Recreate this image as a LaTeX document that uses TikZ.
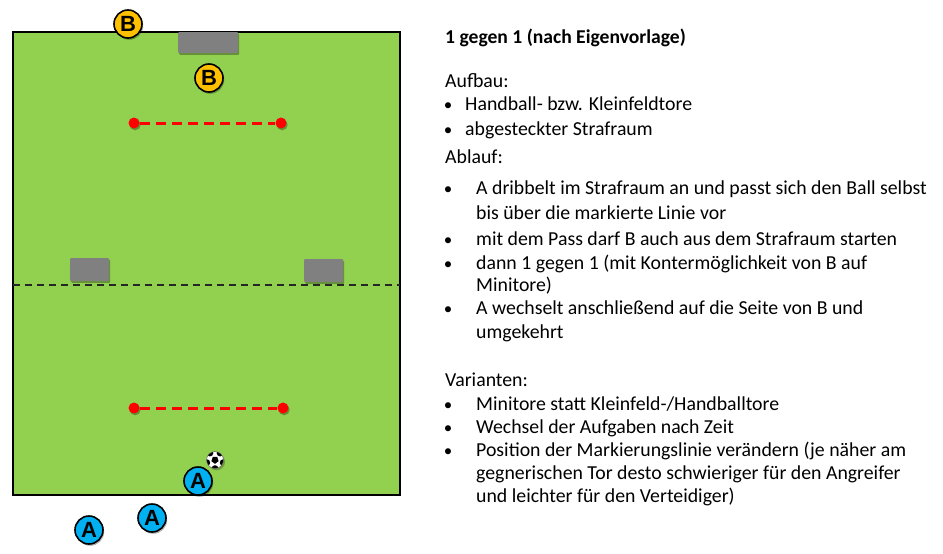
\documentclass[tikz,border=0pt]{standalone}
\usepackage{fontspec}
\setmainfont{Carlito}
\newfontfamily\markfont{Liberation Sans}
\usetikzlibrary{shadows,calc}
\definecolor{fieldgreen}{HTML}{92D050}
\definecolor{goalgray}{HTML}{808080}
\definecolor{playerA}{HTML}{00B0F0}
\definecolor{playerB}{HTML}{FFC000}
\tikzset{
  softshadow/.style={drop shadow={shadow xshift=1.2pt, shadow yshift=-1.8pt, opacity=0.3, fill=black}},
  player/.style={circle, draw=black, line width=1.6pt, minimum size=28pt, inner sep=0pt,
    font=\markfont\bfseries\fontsize{22}{22}\selectfont, softshadow},
  pA/.style={player, fill=playerA},
  pB/.style={player, fill=playerB},
  goalbox/.style={rectangle, fill=goalgray, inner sep=0pt, rounded corners=1pt, softshadow},
  cone/.style={circle, fill=red, minimum size=11pt, inner sep=0pt, softshadow},
  redline/.style={red, line width=3pt, dash pattern=on 10pt off 6pt},
  midline/.style={black!85, line width=1.6pt, dash pattern=on 7pt off 5pt},
  txt/.style={anchor=base west, inner sep=0pt, font=\fontsize{19.8}{23}\selectfont},
  bul/.style={anchor=base, inner sep=0pt, font=\fontsize{17}{23}\selectfont},
}
\begin{document}
\begin{tikzpicture}[x=1pt, y=-1pt]
\useasboundingbox (0,0) rectangle (943,554);
% field
\draw[line width=1.8pt, fill=fieldgreen] (13,32) rectangle (400,495);
% midline
\coordinate (m1) at (13,285);
\coordinate (m2) at (400,285);
\draw[midline] (m1) -- (m2);
% goals
\node[goalbox, minimum width=60pt, minimum height=21pt] (goaltop) at (208,42.5) {};
\node[goalbox, minimum width=39pt, minimum height=23pt] (minileft) at (89.5,269.5) {};
\node[goalbox, minimum width=39pt, minimum height=23pt] (miniright) at (323.5,270.5) {};
% red lines
\node[cone] (c1) at (134,123) {};
\node[cone] (c2) at (281,123) {};
\node[cone] (c3) at (134,408) {};
\node[cone] (c4) at (283,408) {};
\draw[redline] (c1) -- (c2);
\draw[redline] (c3) -- (c4);
% ball
\coordinate (bc) at (215,460);
\begin{scope}
  \fill[black, opacity=0.25] (216.5,461.8) circle (8.5);
  \fill[white] (bc) circle (8.5);
  \clip (bc) circle (8.5);
  \foreach \a in {18,90,162,234,306}
    \fill[black] ($(bc)+(\a:8.6)$) circle (3.4);
  \fill[black] ($(bc)+(90:3.8)$) -- ($(bc)+(18:3.8)$) -- ($(bc)+(-54:3.8)$) -- ($(bc)+(-126:3.8)$) -- ($(bc)+(162:3.8)$) -- cycle;
\end{scope}
\node[circle, draw=black!60, line width=0.5pt, minimum size=17pt, inner sep=0pt] (ball) at (bc) {};
% players
\node[pB] (b1) at (128,24) {B};
\node[pB] (b2) at (209,78) {B};
\node[pA] (a1) at (198,481) {A};
\node[pA] (a2) at (152,518) {A};
\node[pA] (a3) at (89,530) {A};
% text
\node[txt, font=\fontsize{19.6}{23}\selectfont\bfseries] (title) at (445,43) {1 gegen 1 (nach Eigenvorlage)};
\node[txt] (h1) at (445,87) {Aufbau:};
\node[bul] (u1) at (448,110) {•};
\node[txt] (l1) at (465,110) {Handball- bzw. Kleinfeldtore};
\node[bul] (u2) at (448,135) {•};
\node[txt] (l2) at (465,135) {abgesteckter Strafraum};
\node[txt] (h2) at (445,163) {Ablauf:};
\node[bul] (u3) at (448,194) {•};
\node[txt] (l3) at (476,194) {A dribbelt im Strafraum an und passt sich den Ball selbst};
\node[txt] (l4) at (476,219) {bis über die markierte Linie vor};
\node[bul] (u4) at (448,245) {•};
\node[txt] (l5) at (476,245) {mit dem Pass darf B auch aus dem Strafraum starten};
\node[bul] (u5) at (448,269) {•};
\node[txt] (l6) at (476,269) {dann 1 gegen 1 (mit Kontermöglichkeit von B auf};
\node[txt] (l7) at (476,291) {Minitore)};
\node[bul] (u6) at (448,314) {•};
\node[txt] (l8) at (476,314) {A wechselt anschließend auf die Seite von B und};
\node[txt] (l9) at (476,338) {umgekehrt};
\node[txt] (h3) at (445,386) {Varianten:};
\node[bul] (u7) at (448,410) {•};
\node[txt] (l10) at (476,410) {Minitore statt Kleinfeld-/Handballtore};
\node[bul] (u8) at (448,433) {•};
\node[txt] (l11) at (476,433) {Wechsel der Aufgaben nach Zeit};
\node[bul] (u9) at (448,456) {•};
\node[txt] (l12) at (476,456) {Position der Markierungslinie verändern (je näher am};
\node[txt] (l13) at (476,479) {gegnerischen Tor desto schwieriger für den Angreifer};
\node[txt] (l14) at (476,502) {und leichter für den Verteidiger)};
\end{tikzpicture}
\end{document}
